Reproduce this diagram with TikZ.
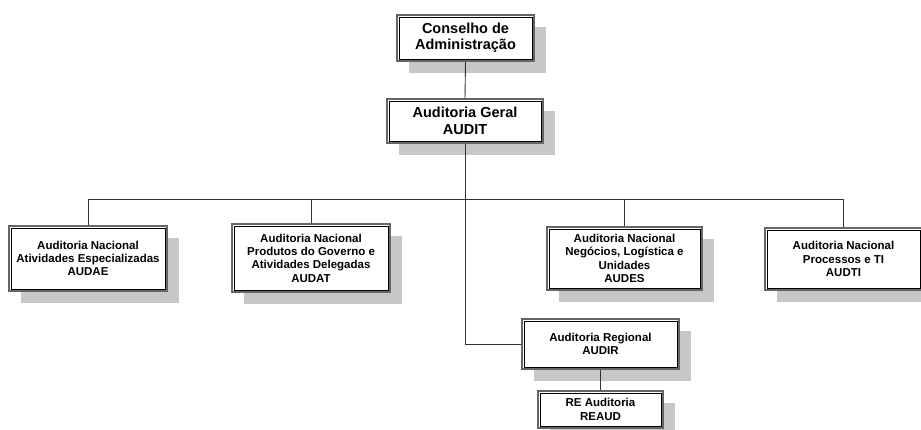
\documentclass[tikz,border=0pt]{standalone}
\usepackage{fontspec}
\setmainfont{Liberation Sans}
\usetikzlibrary{shadows}
\begin{document}
\begin{tikzpicture}[x=1pt,y=-1pt,
  orgbox/.style={draw=black!60, line width=1.4pt, fill=white, align=center,
    inner sep=0pt, font=\bfseries,
    drop shadow={shadow xshift=12pt, shadow yshift=-12pt, fill=black!22, opacity=1}},
  bigtxt/.style={font=\fontsize{14.5}{16.5}\selectfont\bfseries},
  smalltxt/.style={font=\fontsize{11.5}{13.3}\selectfont\bfseries},
  conn/.style={draw=black!80, line width=0.9pt},
  innerline/.style={draw=black, line width=0.7pt}]
\useasboundingbox (0,0) rectangle (921,430);

\node[orgbox, bigtxt, minimum width=137pt, minimum height=46pt] (cons) at (465.5,38) {Conselho de\\Administração};
\node[orgbox, bigtxt, minimum width=156pt, minimum height=44pt] (geral) at (465,121) {Auditoria Geral\\AUDIT};
\node[orgbox, smalltxt, minimum width=158pt, minimum height=65pt] (audae) at (88,258.5) {Auditoria Nacional\\Atividades Especializadas\\AUDAE};
\node[orgbox, smalltxt, minimum width=158pt, minimum height=68pt] (audat) at (311,258) {Auditoria Nacional\\Produtos do Governo e\\Atividades Delegadas\\AUDAT};
\node[orgbox, smalltxt, minimum width=155pt, minimum height=63pt] (audes) at (624.5,258.5) {Auditoria Nacional\\Negócios, Logística e\\Unidades\\AUDES};
\node[orgbox, smalltxt, minimum width=157pt, minimum height=62pt] (audti) at (843.5,259) {Auditoria Nacional\\Processos e TI\\AUDTI};
\node[orgbox, smalltxt, minimum width=157pt, minimum height=50pt] (audir) at (600.5,344) {Auditoria Regional\\AUDIR};
\node[orgbox, smalltxt, minimum width=125pt, minimum height=37pt] (reaud) at (600.5,409.5) {RE Auditoria\\REAUD};

\foreach \n in {cons,geral,audae,audat,audes,audti,audir,reaud}{
  \draw[innerline] ([shift={(2.6pt,2.6pt)}]\n.south west) rectangle ([shift={(-2.6pt,-2.6pt)}]\n.north east);
}

\coordinate (bus) at (465,199);
\draw[conn] (cons.south) -- (geral.north);
\draw[conn] (geral.south) |- (audir.west);
\draw[conn] (audae.north) -- (audae.north |- bus) -- (audti.north |- bus) -- (audti.north);
\draw[conn] (audat.north) -- (audat.north |- bus);
\draw[conn] (audes.north) -- (audes.north |- bus);
\draw[conn] (audir.south) -- (reaud.north);
\end{tikzpicture}
\end{document}
